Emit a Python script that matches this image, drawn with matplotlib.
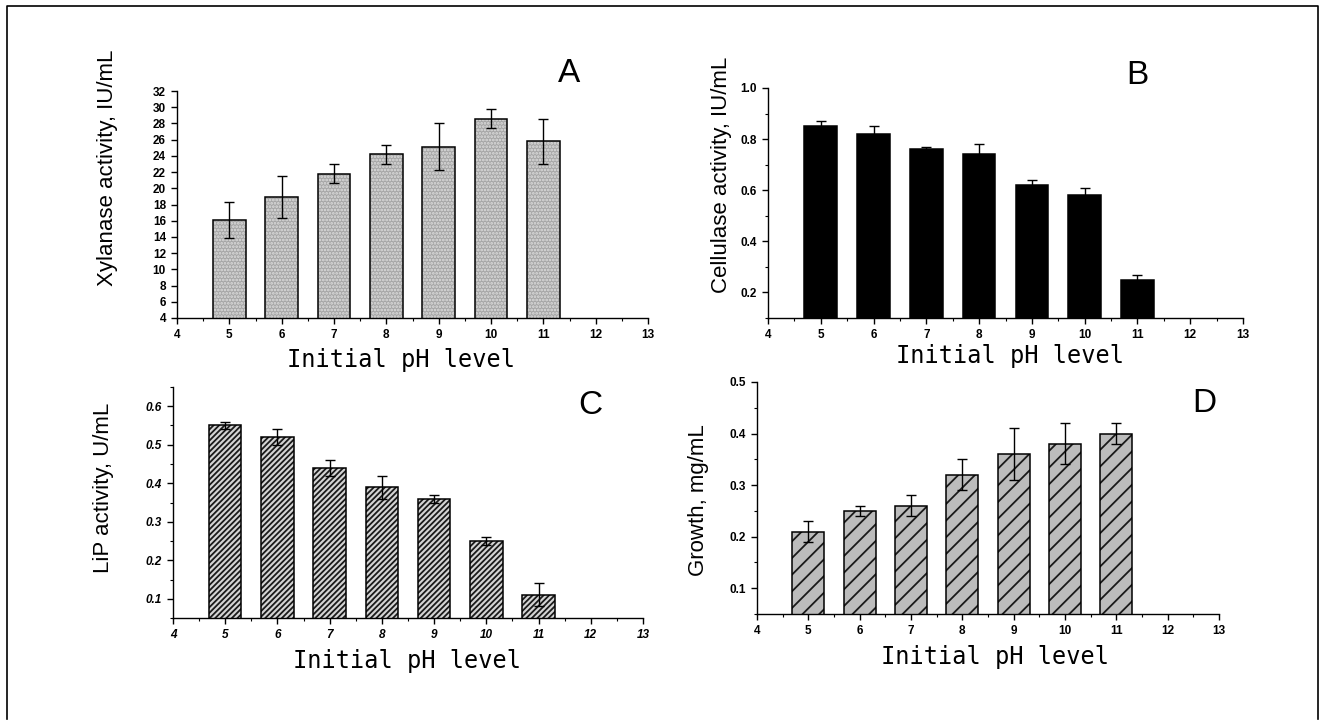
import numpy as np
import matplotlib
matplotlib.use('Agg')
import matplotlib.pyplot as plt
from matplotlib.ticker import MultipleLocator, FormatStrFormatter
from matplotlib.lines import Line2D

plt.rcParams['font.family'] = ['Liberation Sans', 'DejaVu Sans']
plt.rcParams['hatch.linewidth'] = 1.3

# %%
# Data
ph = [5, 6, 7, 8, 9, 10, 11]

xylanase = [16.1, 18.9, 21.8, 24.2, 25.1, 28.6, 25.8]
xylanase_err = [2.2, 2.6, 1.2, 1.2, 2.9, 1.2, 2.8]

cellulase = [0.85, 0.82, 0.76, 0.74, 0.62, 0.58, 0.25]
cellulase_err = [0.02, 0.03, 0.01, 0.04, 0.02, 0.03, 0.02]

lip = [0.55, 0.52, 0.44, 0.39, 0.36, 0.25, 0.11]
lip_err = [0.01, 0.02, 0.02, 0.03, 0.01, 0.01, 0.03]

growth = [0.21, 0.25, 0.26, 0.32, 0.36, 0.38, 0.40]
growth_err = [0.02, 0.01, 0.02, 0.03, 0.05, 0.04, 0.02]

W, H = 1322, 721

def px_axes(fig, left, top, right, bottom):
    return fig.add_axes([left / W, 1 - bottom / H, (right - left) / W, (bottom - top) / H])

def panel(ax, vals, errs, ylim, major, minor, fmt, face, hatch, hatch_col, italic=False):
    ax.bar(ph, vals, width=0.62, color=face, edgecolor=hatch_col, hatch=hatch, linewidth=0)
    ax.bar(ph, vals, width=0.62, fill=False, edgecolor='black', linewidth=1.1)
    ax.errorbar(ph, vals, yerr=errs, fmt='none', ecolor='black', elinewidth=1.0, capsize=3.5, capthick=1.0)
    ax.set_xlim(4, 13)
    ax.set_ylim(*ylim)
    ax.xaxis.set_major_locator(MultipleLocator(1))
    ax.xaxis.set_minor_locator(MultipleLocator(0.5))
    ax.yaxis.set_major_locator(MultipleLocator(major))
    if minor:
        ax.yaxis.set_minor_locator(MultipleLocator(minor))
    ax.yaxis.set_major_formatter(FormatStrFormatter(fmt))
    for s in ['top', 'right']:
        ax.spines[s].set_visible(False)
    for s in ['left', 'bottom']:
        ax.spines[s].set_linewidth(1.0)
    ax.tick_params(which='major', direction='out', length=4, width=1.0, labelsize=8.5, pad=4)
    ax.tick_params(which='minor', direction='out', length=2, width=0.8)
    style = 'italic' if italic else 'normal'
    for lab in ax.get_xticklabels() + ax.get_yticklabels():
        lab.set_fontweight('bold')
        lab.set_fontstyle(style)
    ax.patch.set_alpha(0)

fig = plt.figure(figsize=(W / 100, H / 100), dpi=100)

# %%
# Panels
axA = px_axes(fig, 177, 91, 648, 318)
panel(axA, xylanase, xylanase_err, (4, 32), 2, None, '%d', '#a6a6a6', '.....', '#dedede')

axB = px_axes(fig, 768, 88, 1243, 318)
panel(axB, cellulase, cellulase_err, (0.1, 1.0), 0.2, 0.1, '%.1f', 'black', None, 'black')

axC = px_axes(fig, 173, 387, 643, 618)
panel(axC, lip, lip_err, (0.05, 0.65), 0.1, 0.05, '%.1f', '#d4d4d4', '//////', '#1a1a1a', italic=True)
axC.set_yticks([0.1, 0.2, 0.3, 0.4, 0.5, 0.6])

axD = px_axes(fig, 757, 382, 1219, 614)
panel(axD, growth, growth_err, (0.05, 0.5), 0.1, 0.05, '%.1f', '#bcbcbc', '//', '#1a1a1a')
axD.set_yticks([0.1, 0.2, 0.3, 0.4, 0.5])
for lab in axD.get_yticklabels():
    lab.set_fontweight('bold')

# %%
# Axis titles and panel letters
xl = dict(family='DejaVu Sans Mono', fontsize=17, ha='center', va='center')
fig.text(401 / W, 1 - 360 / H, 'Initial pH level', **xl)
fig.text(1010 / W, 1 - 356 / H, 'Initial pH level', **xl)
fig.text(407 / W, 1 - 661 / H, 'Initial pH level', **xl)
fig.text(995 / W, 1 - 657 / H, 'Initial pH level', **xl)

yl = dict(fontsize=16, ha='center', va='center', rotation=90)
fig.text(108 / W, 1 - 168 / H, 'Xylanase activity, IU/mL', **yl)
fig.text(722 / W, 1 - 175 / H, 'Cellulase activity, IU/mL', **yl)
fig.text(103 / W, 1 - 488 / H, 'LiP activity, U/mL', **yl)
fig.text(698 / W, 1 - 500 / H, 'Growth, mg/mL', **yl)

pl = dict(fontsize=24, ha='center', va='center')
fig.text(569 / W, 1 - 74 / H, 'A', **pl)
fig.text(1137 / W, 1 - 75 / H, 'B', **pl)
fig.text(590 / W, 1 - 405 / H, 'C', **pl)
fig.text(1204 / W, 1 - 403 / H, 'D', **pl)

# Frame around the figure
fig.add_artist(Line2D([7 / W, 7 / W, 1318 / W, 1318 / W],
                      [1 - 719 / H, 1 - 6 / H, 1 - 6 / H, 1 - 719 / H],
                      color='black', linewidth=1.2))

plt.savefig('out.png', dpi=100)
